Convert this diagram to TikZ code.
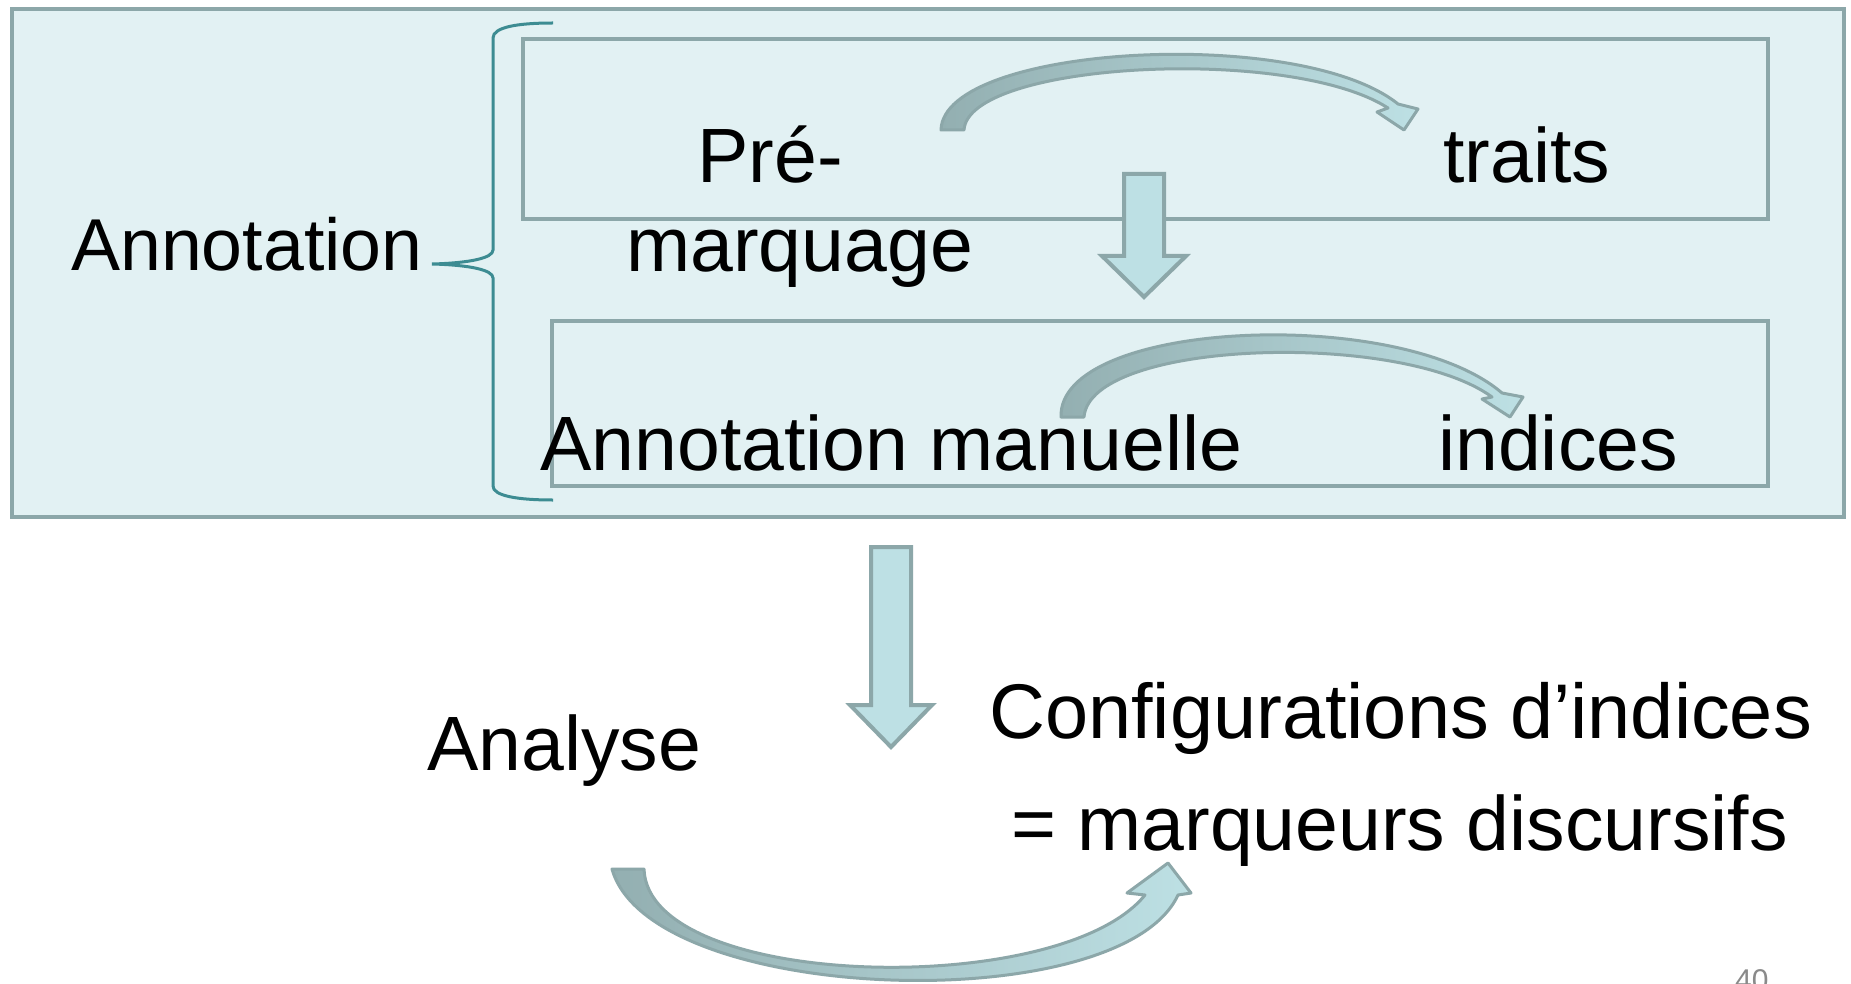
\documentclass[tikz,border=0pt]{standalone}
\usepackage{fontspec}
\setmainfont{Liberation Sans}
\definecolor{bgfill}{HTML}{E2F1F3}
\definecolor{boxline}{HTML}{8CA7A9}
\definecolor{arrowfill}{HTML}{BDE0E4}
\definecolor{arrowdark}{HTML}{93AFB1}
\definecolor{bracecol}{HTML}{3D8C92}
\definecolor{pagenum}{HTML}{8A8A8A}
\tikzset{
  panel/.style={draw=boxline, fill=bgfill, line width=4.5pt},
  innerpanel/.style={draw=boxline, fill=bgfill, line width=4pt},
  blockarrow/.style={draw=boxline, fill=arrowfill, line width=4pt, line join=miter},
  curvedarrow/.style={draw=boxline, line width=3pt, line join=round, left color=arrowdark, right color=arrowfill},
  bracestyle/.style={draw=bracecol, line width=3pt},
  lbl/.style={inner sep=0pt, anchor=base west, font=\fontsize{77}{90}\selectfont},
  numlbl/.style={inner sep=0pt, anchor=base west, text=pagenum, font=\fontsize{30}{36}\selectfont}
}
\begin{document}
\begin{tikzpicture}[x=1pt,y=-1pt]
\useasboundingbox (0,0) rectangle (1851,984);
\clip (0,0) rectangle (1851,984);
\fill[white] (0,0) rectangle (1851,984);

% outer panel
\draw[panel] (12,9) rectangle (1844,517);
% inner panels
\draw[innerpanel] (523,39) rectangle (1768,219);
\draw[innerpanel] (552,321) rectangle (1768,486);

% brace
\draw[bracestyle] (553,23) .. controls (518,23) and (493,27) .. (493,38)
  -- (493,250) .. controls (493,258) and (470,263) .. (432,264)
  .. controls (470,265) and (493,270) .. (493,278)
  -- (493,486) .. controls (493,496) and (518,500) .. (553,500);

% texts
\node[lbl, font=\fontsize{73.5}{90}\selectfont] (annot) at (71,270) {Annotation};
\node[lbl] (pre) at (697,183) {Pré-};
\node[lbl] (marq) at (626,272) {marquage};
\node[lbl] (traits) at (1443,183) {traits};
\node[lbl] (manuelle) at (540,470) {Annotation manuelle};
\node[lbl] (indices) at (1438,470) {indices};
\node[lbl] (analyse) at (427,770) {Analyse};
\node[lbl, font=\fontsize{77.5}{90}\selectfont] (config) at (989,738) {Configurations d’indices};
\node[lbl] (marqueurs) at (1011,850) {= marqueurs discursifs};
\node[numlbl] (num) at (1735,990) {40};

% block arrow between inner panels
\draw[blockarrow] (1124,174) -- (1164,174) -- (1164,256) -- (1186,256)
  -- (1144,297) -- (1102,256) -- (1124,256) -- cycle;
% block arrow below panel
\draw[blockarrow] (871,547) -- (911,547) -- (911,705) -- (932,705)
  -- (891,747) -- (850,705) -- (871,705) -- cycle;

% curved arrow top
\shadedraw[curvedarrow] (941,130) .. controls (943,45) and (1300,25) .. (1398,104)
  -- (1418,109) -- (1404,130) -- (1377,112) -- (1388,108)
  .. controls (1290,45) and (968,62) .. (964,130) -- cycle;

% curved arrow middle
\shadedraw[curvedarrow] (1061,417) .. controls (1058,320) and (1400,305) .. (1502,393)
  -- (1523,397) -- (1510,417) -- (1482,399) -- (1492,397)
  .. controls (1400,330) and (1090,340) .. (1084,417) -- cycle;

% curved arrow bottom
\shadedraw[curvedarrow] (612,869) .. controls (650,1005) and (1120,1020) .. (1178,895)
  -- (1191,893) -- (1168,863) -- (1127,893) -- (1145,895)
  .. controls (1060,1000) and (648,990) .. (644,869) -- cycle;

\end{tikzpicture}
\end{document}
